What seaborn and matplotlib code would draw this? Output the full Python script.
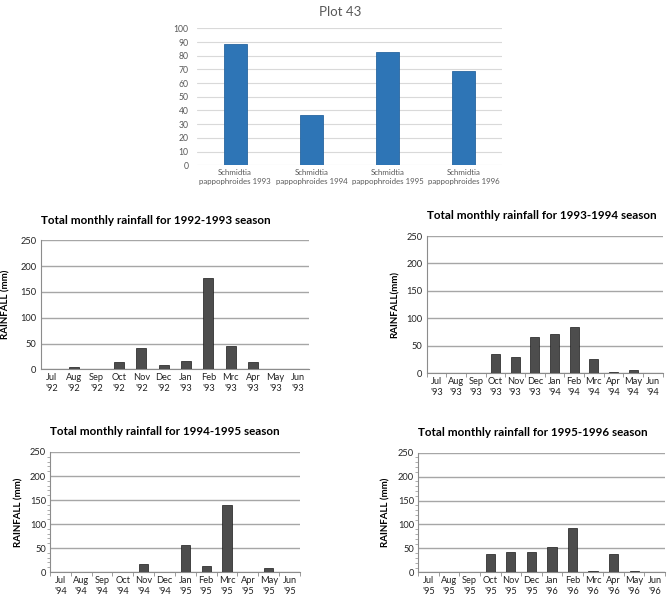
import matplotlib
matplotlib.use("Agg")
import matplotlib.pyplot as plt
import seaborn as sns
import pandas as pd
import numpy as np
from matplotlib.ticker import MultipleLocator, FixedLocator

sns.set_theme(style="white")
plt.rcParams['font.family'] = ['Lato', 'DejaVu Sans']

# ---- data ----
species = ["Schmidtia\npappophroides 1993", "Schmidtia\npappophroides 1994",
           "Schmidtia\npappophroides 1995", "Schmidtia\npappophroides 1996"]
species_vals = [88.6, 37.0, 82.7, 68.9]

months = ["Jul", "Aug", "Sep", "Oct", "Nov", "Dec", "Jan", "Feb", "Mrc", "Apr", "May", "Jun"]
seasons = ["1992-1993", "1993-1994", "1994-1995", "1995-1996"]
rain_9293 = [0, 5.2, 0, 13.6, 40.7, 8.4, 16.1, 177, 44.6, 13.6, 0, 0]
rain_9394 = [0, 1.0, 0, 35.8, 29.1, 66.1, 71.0, 83.7, 26.7, 3.0, 6.0, 0]
rain_9495 = [1.0, 0, 0, 0, 17.4, 0, 55.6, 11.8, 140.3, 0, 9.0, 1.0]
rain_9596 = [0, 0, 0, 39.0, 41.8, 41.8, 52.2, 92.6, 2.8, 37.6, 2.0, 0]
ylabels = ["RAINFALL (mm)", "RAINFALL(mm)", "RAINFALL (mm)", "RAINFALL (mm)"]

W, H = 670, 605
fig = plt.figure(figsize=(W / 100, H / 100), dpi=100)


def px_axes(x0, y0, x1, y1):
    return fig.add_axes([x0 / W, (H - y1) / H, (x1 - x0) / W, (y1 - y0) / H])


# ---- top chart ----
ax = px_axes(197, 28.3, 502, 165.3)
df = pd.DataFrame({"cat": species, "val": species_vals})
sns.barplot(data=df, x="cat", y="val", ax=ax, color="#2E75B6", width=0.3,
            saturation=1, edgecolor="#2866A0", linewidth=0.6, zorder=3)
ax.set_ylim(0, 100)
ax.yaxis.set_major_locator(MultipleLocator(10))
ax.grid(axis="y", color="#D9D9D9", linewidth=0.8, zorder=0)
ax.set_axisbelow(True)
for s in ax.spines.values():
    s.set_visible(False)
ax.set_xlabel("")
ax.set_ylabel("")
ax.tick_params(axis="y", length=0, labelsize=6.2, labelcolor="#595959", pad=6)
ax.tick_params(axis="x", length=0, labelsize=5.7, labelcolor="#595959", pad=3)
fig.text(340 / W, 1 - 12 / H, "Plot 43", ha="center", va="center", fontsize=9.5,
         color="#595959")

# ---- rainfall panels ----
panels = [
    (rain_9293, (40.7, 240.3, 309, 369.3), ("92", "93"), 30),
    (rain_9394, (426.7, 236, 662.7, 373.3), ("93", "94"), 27),
    (rain_9495, (50, 452, 300, 572), ("94", "95"), 27),
    (rain_9596, (418.3, 452.7, 665, 572.3), ("95", "96"), 28),
]

for i, (vals, box, yrs, ylab_off) in enumerate(panels):
    ax = px_axes(*box)
    labels = [f"{m}\n'{yrs[0] if j < 6 else yrs[1]}" for j, m in enumerate(months)]
    d = pd.DataFrame({"month": labels, "rain": vals})
    sns.barplot(data=d, x="month", y="rain", order=labels, ax=ax, color="#4D4D4D",
                width=0.45, saturation=1, edgecolor="#1a1a1a", linewidth=0.5, zorder=3)
    ax.set_ylim(0, 250)
    ax.set_xlim(-0.5, 11.5)
    ax.yaxis.set_major_locator(MultipleLocator(50))
    ax.grid(axis="y", color="#A6A6A6", linewidth=1.0, zorder=0)
    ax.set_axisbelow(True)
    for k in ("top", "right"):
        ax.spines[k].set_visible(False)
    for k in ("left", "bottom"):
        ax.spines[k].set_color("#8C8C8C")
        ax.spines[k].set_linewidth(0.8)
    ax.set_xlabel("")
    ax.set_ylabel(ylabels[i], fontsize=7, fontweight="bold", color="#000000")
    ax.yaxis.set_label_coords(-(ylab_off) / (box[2] - box[0]), 0.5)
    ax.tick_params(axis="both", length=0, labelsize=6.7, labelcolor="#222222", pad=3)
    if i > 0:
        ax.xaxis.set_minor_locator(FixedLocator(np.arange(-0.5, 12, 1)))
        ax.tick_params(axis="x", which="minor", length=3, width=0.6, color="#8C8C8C",
                       direction="out", bottom=True)
    if i >= 2:
        ax.yaxis.set_minor_locator(MultipleLocator(10))
        ax.tick_params(axis="y", which="minor", length=2, width=0.5, color="#8C8C8C",
                       direction="out", left=True)
    ax.set_title(f"Total monthly rainfall for {seasons[i]} season", loc="left",
                 fontsize=8.4, fontweight="bold", pad=12, color="#000000")

fig.savefig("out.png", dpi=100)
